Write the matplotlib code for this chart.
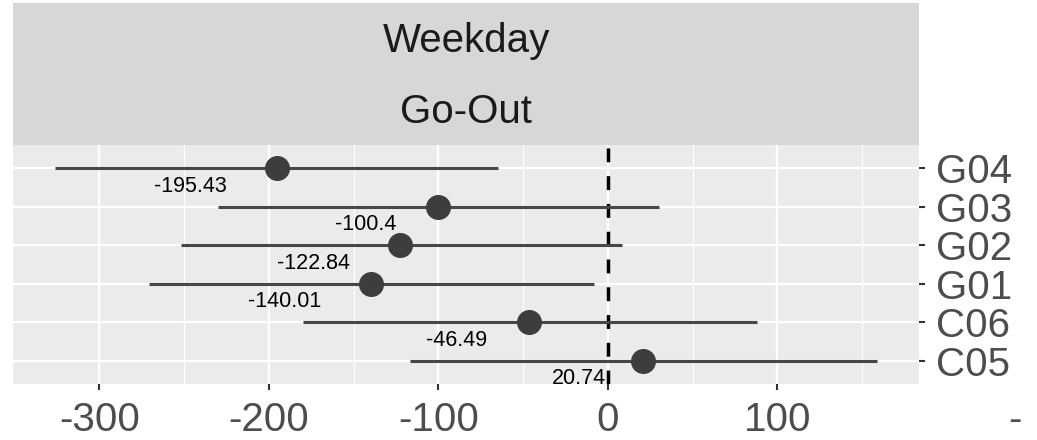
import matplotlib
matplotlib.use('Agg')
import matplotlib.pyplot as plt
from matplotlib.patches import Rectangle

# estimates with 95% intervals, top row first
groups = ['G04', 'G03', 'G02', 'G01', 'C06', 'C05']
est = [-195.43, -100.4, -122.84, -140.01, -46.49, 20.74]
lower = [-326, -230, -252, -271, -180, -117]
upper = [-65, 30, 8, -8, 88, 159]
xticks = [-300, -200, -100, 0, 100]
strip_lines = ['Weekday', 'Go-Out']

plt.rcParams['font.family'] = ['Liberation Sans', 'DejaVu Sans']

W, H = 1037, 440
fig = plt.figure(figsize=(W / 100, H / 100), dpi=100)

left, right, top, bottom = 13, 919, 145, 384
ax = fig.add_axes([left / W, 1 - bottom / H, (right - left) / W, (bottom - top) / H])
ax.set_facecolor('#EBEBEB')
for s in ax.spines.values():
    s.set_visible(False)

n = len(groups)
ypos = [n - i for i in range(n)]

ax.set_xlim(-351, 183.5)
ax.set_ylim(0.4, n + 0.6)
ax.set_xticks(xticks)
ax.set_xticklabels([str(v) for v in xticks])
ax.set_xticks([-250, -150, -50, 50, 150], minor=True)
ax.set_yticks(ypos)
ax.set_yticklabels(groups)
ax.yaxis.tick_right()

ax.grid(which='major', color='white', linewidth=1.6)
ax.grid(which='minor', axis='x', color='white', linewidth=0.8)
ax.set_axisbelow(True)

ax.tick_params(axis='both', which='major', length=4.5, width=1.5, color='#333333',
               labelsize=29, labelcolor='#4D4D4D', pad=8)
ax.tick_params(axis='both', which='minor', length=0)

ax.axvline(0, color='black', linewidth=2.5, linestyle=(0, (4, 4)), zorder=2)

ax.hlines(ypos, lower, upper, color='#474747', linewidth=2.2, zorder=3)
ax.plot(est, ypos, 'o', color='#3D3D3D', markersize=17, zorder=4)

# value labels: right-aligned, pushed left like hjust ~1.7
fig.canvas.draw()
renderer = fig.canvas.get_renderer()
for x, y in zip(est, ypos):
    t = ax.annotate(str(x), (x, y), xytext=(0, -18), textcoords='offset pixels',
                    ha='right', va='center', fontsize=15.5, color='black', zorder=5)
    w = t.get_window_extent(renderer).width
    t.set_position((-0.68 * w, -18))

# facet strip
fig.patches.append(Rectangle((left / W, 1 - top / H), (right - left) / W, (top - 3) / H,
                             transform=fig.transFigure, facecolor='#D7D7D7',
                             edgecolor='none'))
cx = (left + right) / 2 / W
fig.text(cx, 1 - 41 / H, strip_lines[0], ha='center', va='center', fontsize=29, color='#1A1A1A')
fig.text(cx, 1 - 112 / H, strip_lines[1], ha='center', va='center', fontsize=29, color='#1A1A1A')

# cut-off tick from the neighbouring panel
fig.text(1015 / W, 1 - 420 / H, '-', ha='center', va='center', fontsize=29, color='#4D4D4D')

fig.savefig('out.png', dpi=100)
